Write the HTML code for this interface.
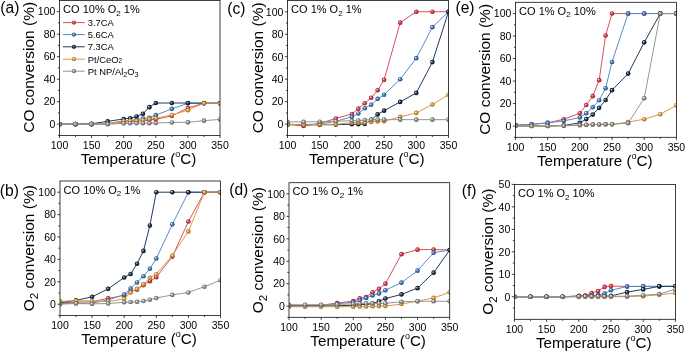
<!DOCTYPE html><html><head><meta charset="utf-8"><style>
html,body{margin:0;padding:0;background:#fff;width:685px;height:351px;overflow:hidden;}
svg{display:block;will-change:transform;}
text{font-family:"Liberation Sans", sans-serif;fill:#000;}
</style></head><body>
<svg width="685" height="351" viewBox="0 0 685 351">
<defs>
<radialGradient id="g_red" cx="0.5" cy="0.5" r="0.5" fx="0.33" fy="0.33"><stop offset="0" stop-color="#ffffff"/><stop offset="0.2" stop-color="#ec96a3"/><stop offset="0.55" stop-color="#cc3346"/><stop offset="1" stop-color="#9e1d2e"/></radialGradient>
<radialGradient id="g_blue" cx="0.5" cy="0.5" r="0.5" fx="0.33" fy="0.33"><stop offset="0" stop-color="#ffffff"/><stop offset="0.2" stop-color="#9dbde2"/><stop offset="0.55" stop-color="#3f72b0"/><stop offset="1" stop-color="#244d82"/></radialGradient>
<radialGradient id="g_navy" cx="0.5" cy="0.5" r="0.5" fx="0.33" fy="0.33"><stop offset="0" stop-color="#ffffff"/><stop offset="0.2" stop-color="#7d95ae"/><stop offset="0.55" stop-color="#142c46"/><stop offset="1" stop-color="#061426"/></radialGradient>
<radialGradient id="g_orange" cx="0.5" cy="0.5" r="0.5" fx="0.33" fy="0.33"><stop offset="0" stop-color="#ffffff"/><stop offset="0.2" stop-color="#f0cb94"/><stop offset="0.55" stop-color="#d2953a"/><stop offset="1" stop-color="#a36a1c"/></radialGradient>
<radialGradient id="g_gray" cx="0.5" cy="0.5" r="0.5" fx="0.33" fy="0.33"><stop offset="0" stop-color="#ffffff"/><stop offset="0.2" stop-color="#d6d6d6"/><stop offset="0.55" stop-color="#8c8c8c"/><stop offset="1" stop-color="#5e5e5e"/></radialGradient>
</defs>
<clipPath id="cp_a"><rect x="59.50" y="0.40" width="160.50" height="135.00"/></clipPath>
<line x1="56.90" y1="124.15" x2="59.50" y2="124.15" stroke="#111" stroke-width="0.80"/>
<text transform="translate(55.40,127.95) scale(1,1.000)" font-size="10.5" text-anchor="end">0</text>
<line x1="56.90" y1="101.65" x2="59.50" y2="101.65" stroke="#111" stroke-width="0.80"/>
<text transform="translate(55.40,105.45) scale(1,1.000)" font-size="10.5" text-anchor="end">20</text>
<line x1="56.90" y1="79.15" x2="59.50" y2="79.15" stroke="#111" stroke-width="0.80"/>
<text transform="translate(55.40,82.95) scale(1,1.000)" font-size="10.5" text-anchor="end">40</text>
<line x1="56.90" y1="56.65" x2="59.50" y2="56.65" stroke="#111" stroke-width="0.80"/>
<text transform="translate(55.40,60.45) scale(1,1.000)" font-size="10.5" text-anchor="end">60</text>
<line x1="56.90" y1="34.15" x2="59.50" y2="34.15" stroke="#111" stroke-width="0.80"/>
<text transform="translate(55.40,37.95) scale(1,1.000)" font-size="10.5" text-anchor="end">80</text>
<line x1="56.90" y1="11.65" x2="59.50" y2="11.65" stroke="#111" stroke-width="0.80"/>
<text transform="translate(55.40,15.45) scale(1,1.000)" font-size="10.5" text-anchor="end">100</text>
<line x1="57.90" y1="135.40" x2="59.50" y2="135.40" stroke="#111" stroke-width="0.80"/>
<line x1="57.90" y1="112.90" x2="59.50" y2="112.90" stroke="#111" stroke-width="0.80"/>
<line x1="57.90" y1="90.40" x2="59.50" y2="90.40" stroke="#111" stroke-width="0.80"/>
<line x1="57.90" y1="67.90" x2="59.50" y2="67.90" stroke="#111" stroke-width="0.80"/>
<line x1="57.90" y1="45.40" x2="59.50" y2="45.40" stroke="#111" stroke-width="0.80"/>
<line x1="57.90" y1="22.90" x2="59.50" y2="22.90" stroke="#111" stroke-width="0.80"/>
<line x1="59.50" y1="135.40" x2="59.50" y2="138.00" stroke="#111" stroke-width="0.80"/>
<text transform="translate(59.50,149.20) scale(1,1.000)" font-size="10.5" text-anchor="middle">100</text>
<line x1="91.60" y1="135.40" x2="91.60" y2="138.00" stroke="#111" stroke-width="0.80"/>
<text transform="translate(91.60,149.20) scale(1,1.000)" font-size="10.5" text-anchor="middle">150</text>
<line x1="123.70" y1="135.40" x2="123.70" y2="138.00" stroke="#111" stroke-width="0.80"/>
<text transform="translate(123.70,149.20) scale(1,1.000)" font-size="10.5" text-anchor="middle">200</text>
<line x1="155.80" y1="135.40" x2="155.80" y2="138.00" stroke="#111" stroke-width="0.80"/>
<text transform="translate(155.80,149.20) scale(1,1.000)" font-size="10.5" text-anchor="middle">250</text>
<line x1="187.90" y1="135.40" x2="187.90" y2="138.00" stroke="#111" stroke-width="0.80"/>
<text transform="translate(187.90,149.20) scale(1,1.000)" font-size="10.5" text-anchor="middle">300</text>
<line x1="220.00" y1="135.40" x2="220.00" y2="138.00" stroke="#111" stroke-width="0.80"/>
<text transform="translate(220.00,149.20) scale(1,1.000)" font-size="10.5" text-anchor="middle">350</text>
<line x1="75.55" y1="135.40" x2="75.55" y2="137.00" stroke="#111" stroke-width="0.80"/>
<line x1="107.65" y1="135.40" x2="107.65" y2="137.00" stroke="#111" stroke-width="0.80"/>
<line x1="139.75" y1="135.40" x2="139.75" y2="137.00" stroke="#111" stroke-width="0.80"/>
<line x1="171.85" y1="135.40" x2="171.85" y2="137.00" stroke="#111" stroke-width="0.80"/>
<line x1="203.95" y1="135.40" x2="203.95" y2="137.00" stroke="#111" stroke-width="0.80"/>
<text x="138.55" y="163.70" font-size="15.2" text-anchor="middle">Temperature (<tspan font-size="9" dy="-6.8">o</tspan><tspan dy="6.8">C)</tspan></text>
<text transform="translate(33.80,67.30) rotate(-90)" font-size="15.5" text-anchor="middle">CO conversion (%)</text>
<text x="0.30" y="12.90" font-size="15.6">(a)</text>
<text x="63.10" y="12.90" font-size="11">CO 10% O<tspan font-size="8" dy="2.6">2</tspan><tspan dy="-2.6"> 1%</tspan></text>
<g clip-path="url(#cp_a)">
<polyline points="59.50,124.15 75.55,124.15 91.60,124.15 107.65,123.81 123.70,122.12 130.12,121.68 136.54,121.23 142.96,120.78 149.38,120.10 155.80,119.31 171.85,115.83 187.90,107.95 203.95,103.23 220.00,103.34" fill="none" stroke="#d8505c" stroke-width="1" stroke-linejoin="round"/>
<circle cx="59.50" cy="124.15" r="2.30" fill="url(#g_red)"/>
<circle cx="75.55" cy="124.15" r="2.30" fill="url(#g_red)"/>
<circle cx="91.60" cy="124.15" r="2.30" fill="url(#g_red)"/>
<circle cx="107.65" cy="123.81" r="2.30" fill="url(#g_red)"/>
<circle cx="123.70" cy="122.12" r="2.30" fill="url(#g_red)"/>
<circle cx="130.12" cy="121.68" r="2.30" fill="url(#g_red)"/>
<circle cx="136.54" cy="121.23" r="2.30" fill="url(#g_red)"/>
<circle cx="142.96" cy="120.78" r="2.30" fill="url(#g_red)"/>
<circle cx="149.38" cy="120.10" r="2.30" fill="url(#g_red)"/>
<circle cx="155.80" cy="119.31" r="2.30" fill="url(#g_red)"/>
<circle cx="171.85" cy="115.83" r="2.30" fill="url(#g_red)"/>
<circle cx="187.90" cy="107.95" r="2.30" fill="url(#g_red)"/>
<circle cx="203.95" cy="103.23" r="2.30" fill="url(#g_red)"/>
<circle cx="220.00" cy="103.34" r="2.30" fill="url(#g_red)"/>
<polyline points="59.50,124.15 75.55,124.15 91.60,124.15 107.65,123.70 123.70,120.78 130.12,120.44 136.54,119.88 142.96,118.53 149.38,117.85 155.80,115.15 171.85,108.85 187.90,103.34 203.95,103.23 220.00,103.23" fill="none" stroke="#5b8cc8" stroke-width="1" stroke-linejoin="round"/>
<circle cx="59.50" cy="124.15" r="2.30" fill="url(#g_blue)"/>
<circle cx="75.55" cy="124.15" r="2.30" fill="url(#g_blue)"/>
<circle cx="91.60" cy="124.15" r="2.30" fill="url(#g_blue)"/>
<circle cx="107.65" cy="123.70" r="2.30" fill="url(#g_blue)"/>
<circle cx="123.70" cy="120.78" r="2.30" fill="url(#g_blue)"/>
<circle cx="130.12" cy="120.44" r="2.30" fill="url(#g_blue)"/>
<circle cx="136.54" cy="119.88" r="2.30" fill="url(#g_blue)"/>
<circle cx="142.96" cy="118.53" r="2.30" fill="url(#g_blue)"/>
<circle cx="149.38" cy="117.85" r="2.30" fill="url(#g_blue)"/>
<circle cx="155.80" cy="115.15" r="2.30" fill="url(#g_blue)"/>
<circle cx="171.85" cy="108.85" r="2.30" fill="url(#g_blue)"/>
<circle cx="187.90" cy="103.34" r="2.30" fill="url(#g_blue)"/>
<circle cx="203.95" cy="103.23" r="2.30" fill="url(#g_blue)"/>
<circle cx="220.00" cy="103.23" r="2.30" fill="url(#g_blue)"/>
<polyline points="59.50,124.15 75.55,124.15 91.60,123.81 107.65,121.34 123.70,118.98 130.12,118.19 136.54,116.50 142.96,113.69 149.38,107.16 155.80,103.00 171.85,103.00 187.90,103.00 203.95,103.11 220.00,103.23" fill="none" stroke="#1f3b58" stroke-width="1" stroke-linejoin="round"/>
<circle cx="59.50" cy="124.15" r="2.30" fill="url(#g_navy)"/>
<circle cx="75.55" cy="124.15" r="2.30" fill="url(#g_navy)"/>
<circle cx="91.60" cy="123.81" r="2.30" fill="url(#g_navy)"/>
<circle cx="107.65" cy="121.34" r="2.30" fill="url(#g_navy)"/>
<circle cx="123.70" cy="118.98" r="2.30" fill="url(#g_navy)"/>
<circle cx="130.12" cy="118.19" r="2.30" fill="url(#g_navy)"/>
<circle cx="136.54" cy="116.50" r="2.30" fill="url(#g_navy)"/>
<circle cx="142.96" cy="113.69" r="2.30" fill="url(#g_navy)"/>
<circle cx="149.38" cy="107.16" r="2.30" fill="url(#g_navy)"/>
<circle cx="155.80" cy="103.00" r="2.30" fill="url(#g_navy)"/>
<circle cx="171.85" cy="103.00" r="2.30" fill="url(#g_navy)"/>
<circle cx="187.90" cy="103.00" r="2.30" fill="url(#g_navy)"/>
<circle cx="203.95" cy="103.11" r="2.30" fill="url(#g_navy)"/>
<circle cx="220.00" cy="103.23" r="2.30" fill="url(#g_navy)"/>
<polyline points="59.50,124.15 75.55,124.15 91.60,124.15 107.65,123.81 123.70,121.11 130.12,120.78 136.54,120.66 142.96,120.10 149.38,118.86 155.80,118.30 171.85,114.93 187.90,110.20 203.95,103.23 220.00,103.45" fill="none" stroke="#d89a46" stroke-width="1" stroke-linejoin="round"/>
<circle cx="59.50" cy="124.15" r="2.30" fill="url(#g_orange)"/>
<circle cx="75.55" cy="124.15" r="2.30" fill="url(#g_orange)"/>
<circle cx="91.60" cy="124.15" r="2.30" fill="url(#g_orange)"/>
<circle cx="107.65" cy="123.81" r="2.30" fill="url(#g_orange)"/>
<circle cx="123.70" cy="121.11" r="2.30" fill="url(#g_orange)"/>
<circle cx="130.12" cy="120.78" r="2.30" fill="url(#g_orange)"/>
<circle cx="136.54" cy="120.66" r="2.30" fill="url(#g_orange)"/>
<circle cx="142.96" cy="120.10" r="2.30" fill="url(#g_orange)"/>
<circle cx="149.38" cy="118.86" r="2.30" fill="url(#g_orange)"/>
<circle cx="155.80" cy="118.30" r="2.30" fill="url(#g_orange)"/>
<circle cx="171.85" cy="114.93" r="2.30" fill="url(#g_orange)"/>
<circle cx="187.90" cy="110.20" r="2.30" fill="url(#g_orange)"/>
<circle cx="203.95" cy="103.23" r="2.30" fill="url(#g_orange)"/>
<circle cx="220.00" cy="103.45" r="2.30" fill="url(#g_orange)"/>
<polyline points="59.50,124.15 75.55,124.15 91.60,124.15 107.65,124.15 123.70,123.36 130.12,123.25 136.54,123.25 142.96,123.14 149.38,123.14 155.80,123.03 171.85,122.46 187.90,122.35 203.95,120.66 220.00,119.43" fill="none" stroke="#959595" stroke-width="1" stroke-linejoin="round"/>
<circle cx="59.50" cy="124.15" r="2.30" fill="url(#g_gray)"/>
<circle cx="75.55" cy="124.15" r="2.30" fill="url(#g_gray)"/>
<circle cx="91.60" cy="124.15" r="2.30" fill="url(#g_gray)"/>
<circle cx="107.65" cy="124.15" r="2.30" fill="url(#g_gray)"/>
<circle cx="123.70" cy="123.36" r="2.30" fill="url(#g_gray)"/>
<circle cx="130.12" cy="123.25" r="2.30" fill="url(#g_gray)"/>
<circle cx="136.54" cy="123.25" r="2.30" fill="url(#g_gray)"/>
<circle cx="142.96" cy="123.14" r="2.30" fill="url(#g_gray)"/>
<circle cx="149.38" cy="123.14" r="2.30" fill="url(#g_gray)"/>
<circle cx="155.80" cy="123.03" r="2.30" fill="url(#g_gray)"/>
<circle cx="171.85" cy="122.46" r="2.30" fill="url(#g_gray)"/>
<circle cx="187.90" cy="122.35" r="2.30" fill="url(#g_gray)"/>
<circle cx="203.95" cy="120.66" r="2.30" fill="url(#g_gray)"/>
<circle cx="220.00" cy="119.43" r="2.30" fill="url(#g_gray)"/>
</g>
<rect x="59.50" y="0.40" width="160.50" height="135.00" fill="none" stroke="#111" stroke-width="0.80"/>
<clipPath id="cp_c"><rect x="287.50" y="0.50" width="161.00" height="134.90"/></clipPath>
<line x1="284.90" y1="124.16" x2="287.50" y2="124.16" stroke="#111" stroke-width="0.80"/>
<text transform="translate(283.40,127.96) scale(1,1.000)" font-size="10.5" text-anchor="end">0</text>
<line x1="284.90" y1="101.67" x2="287.50" y2="101.67" stroke="#111" stroke-width="0.80"/>
<text transform="translate(283.40,105.47) scale(1,1.000)" font-size="10.5" text-anchor="end">20</text>
<line x1="284.90" y1="79.19" x2="287.50" y2="79.19" stroke="#111" stroke-width="0.80"/>
<text transform="translate(283.40,82.99) scale(1,1.000)" font-size="10.5" text-anchor="end">40</text>
<line x1="284.90" y1="56.71" x2="287.50" y2="56.71" stroke="#111" stroke-width="0.80"/>
<text transform="translate(283.40,60.51) scale(1,1.000)" font-size="10.5" text-anchor="end">60</text>
<line x1="284.90" y1="34.22" x2="287.50" y2="34.22" stroke="#111" stroke-width="0.80"/>
<text transform="translate(283.40,38.02) scale(1,1.000)" font-size="10.5" text-anchor="end">80</text>
<line x1="284.90" y1="11.74" x2="287.50" y2="11.74" stroke="#111" stroke-width="0.80"/>
<text transform="translate(283.40,15.54) scale(1,1.000)" font-size="10.5" text-anchor="end">100</text>
<line x1="285.90" y1="135.40" x2="287.50" y2="135.40" stroke="#111" stroke-width="0.80"/>
<line x1="285.90" y1="112.92" x2="287.50" y2="112.92" stroke="#111" stroke-width="0.80"/>
<line x1="285.90" y1="90.43" x2="287.50" y2="90.43" stroke="#111" stroke-width="0.80"/>
<line x1="285.90" y1="67.95" x2="287.50" y2="67.95" stroke="#111" stroke-width="0.80"/>
<line x1="285.90" y1="45.47" x2="287.50" y2="45.47" stroke="#111" stroke-width="0.80"/>
<line x1="285.90" y1="22.98" x2="287.50" y2="22.98" stroke="#111" stroke-width="0.80"/>
<line x1="287.50" y1="135.40" x2="287.50" y2="138.00" stroke="#111" stroke-width="0.80"/>
<text transform="translate(287.50,149.20) scale(1,1.000)" font-size="10.5" text-anchor="middle">100</text>
<line x1="319.70" y1="135.40" x2="319.70" y2="138.00" stroke="#111" stroke-width="0.80"/>
<text transform="translate(319.70,149.20) scale(1,1.000)" font-size="10.5" text-anchor="middle">150</text>
<line x1="351.90" y1="135.40" x2="351.90" y2="138.00" stroke="#111" stroke-width="0.80"/>
<text transform="translate(351.90,149.20) scale(1,1.000)" font-size="10.5" text-anchor="middle">200</text>
<line x1="384.10" y1="135.40" x2="384.10" y2="138.00" stroke="#111" stroke-width="0.80"/>
<text transform="translate(384.10,149.20) scale(1,1.000)" font-size="10.5" text-anchor="middle">250</text>
<line x1="416.30" y1="135.40" x2="416.30" y2="138.00" stroke="#111" stroke-width="0.80"/>
<text transform="translate(416.30,149.20) scale(1,1.000)" font-size="10.5" text-anchor="middle">300</text>
<line x1="448.50" y1="135.40" x2="448.50" y2="138.00" stroke="#111" stroke-width="0.80"/>
<text transform="translate(448.50,149.20) scale(1,1.000)" font-size="10.5" text-anchor="middle">350</text>
<line x1="303.60" y1="135.40" x2="303.60" y2="137.00" stroke="#111" stroke-width="0.80"/>
<line x1="335.80" y1="135.40" x2="335.80" y2="137.00" stroke="#111" stroke-width="0.80"/>
<line x1="368.00" y1="135.40" x2="368.00" y2="137.00" stroke="#111" stroke-width="0.80"/>
<line x1="400.20" y1="135.40" x2="400.20" y2="137.00" stroke="#111" stroke-width="0.80"/>
<line x1="432.40" y1="135.40" x2="432.40" y2="137.00" stroke="#111" stroke-width="0.80"/>
<text x="366.80" y="163.70" font-size="15.2" text-anchor="middle">Temperature (<tspan font-size="9" dy="-6.8">o</tspan><tspan dy="6.8">C)</tspan></text>
<text transform="translate(262.70,67.85) rotate(-90)" font-size="15.5" text-anchor="middle">CO conversion (%)</text>
<text x="227.30" y="14.30" font-size="15.6">(c)</text>
<text x="291.10" y="13.00" font-size="11">CO 1% O<tspan font-size="8" dy="2.6">2</tspan><tspan dy="-2.6"> 1%</tspan></text>
<g clip-path="url(#cp_c)">
<polyline points="287.50,124.16 303.60,125.96 319.70,123.48 335.80,118.43 351.90,113.93 358.34,108.64 364.78,103.25 371.22,97.74 377.66,90.32 384.10,79.87 400.20,22.65 416.30,11.74 432.40,11.74 448.50,11.74" fill="none" stroke="#d8505c" stroke-width="1" stroke-linejoin="round"/>
<circle cx="287.50" cy="124.16" r="2.30" fill="url(#g_red)"/>
<circle cx="303.60" cy="125.96" r="2.30" fill="url(#g_red)"/>
<circle cx="319.70" cy="123.48" r="2.30" fill="url(#g_red)"/>
<circle cx="335.80" cy="118.43" r="2.30" fill="url(#g_red)"/>
<circle cx="351.90" cy="113.93" r="2.30" fill="url(#g_red)"/>
<circle cx="358.34" cy="108.64" r="2.30" fill="url(#g_red)"/>
<circle cx="364.78" cy="103.25" r="2.30" fill="url(#g_red)"/>
<circle cx="371.22" cy="97.74" r="2.30" fill="url(#g_red)"/>
<circle cx="377.66" cy="90.32" r="2.30" fill="url(#g_red)"/>
<circle cx="384.10" cy="79.87" r="2.30" fill="url(#g_red)"/>
<circle cx="400.20" cy="22.65" r="2.30" fill="url(#g_red)"/>
<circle cx="416.30" cy="11.74" r="2.30" fill="url(#g_red)"/>
<circle cx="432.40" cy="11.74" r="2.30" fill="url(#g_red)"/>
<circle cx="448.50" cy="11.74" r="2.30" fill="url(#g_red)"/>
<polyline points="287.50,124.50 303.60,124.50 319.70,124.05 335.80,121.24 351.90,116.85 358.34,113.48 364.78,108.20 371.22,104.82 377.66,98.86 384.10,94.71 400.20,79.30 416.30,58.17 432.40,27.14 448.50,11.74" fill="none" stroke="#5b8cc8" stroke-width="1" stroke-linejoin="round"/>
<circle cx="287.50" cy="124.50" r="2.30" fill="url(#g_blue)"/>
<circle cx="303.60" cy="124.50" r="2.30" fill="url(#g_blue)"/>
<circle cx="319.70" cy="124.05" r="2.30" fill="url(#g_blue)"/>
<circle cx="335.80" cy="121.24" r="2.30" fill="url(#g_blue)"/>
<circle cx="351.90" cy="116.85" r="2.30" fill="url(#g_blue)"/>
<circle cx="358.34" cy="113.48" r="2.30" fill="url(#g_blue)"/>
<circle cx="364.78" cy="108.20" r="2.30" fill="url(#g_blue)"/>
<circle cx="371.22" cy="104.82" r="2.30" fill="url(#g_blue)"/>
<circle cx="377.66" cy="98.86" r="2.30" fill="url(#g_blue)"/>
<circle cx="384.10" cy="94.71" r="2.30" fill="url(#g_blue)"/>
<circle cx="400.20" cy="79.30" r="2.30" fill="url(#g_blue)"/>
<circle cx="416.30" cy="58.17" r="2.30" fill="url(#g_blue)"/>
<circle cx="432.40" cy="27.14" r="2.30" fill="url(#g_blue)"/>
<circle cx="448.50" cy="11.74" r="2.30" fill="url(#g_blue)"/>
<polyline points="287.50,124.61 303.60,124.83 319.70,124.83 335.80,124.61 351.90,124.27 358.34,124.16 364.78,124.05 371.22,119.89 377.66,114.38 384.10,110.67 400.20,101.90 416.30,92.91 432.40,62.10 448.50,11.74" fill="none" stroke="#1f3b58" stroke-width="1" stroke-linejoin="round"/>
<circle cx="287.50" cy="124.61" r="2.30" fill="url(#g_navy)"/>
<circle cx="303.60" cy="124.83" r="2.30" fill="url(#g_navy)"/>
<circle cx="319.70" cy="124.83" r="2.30" fill="url(#g_navy)"/>
<circle cx="335.80" cy="124.61" r="2.30" fill="url(#g_navy)"/>
<circle cx="351.90" cy="124.27" r="2.30" fill="url(#g_navy)"/>
<circle cx="358.34" cy="124.16" r="2.30" fill="url(#g_navy)"/>
<circle cx="364.78" cy="124.05" r="2.30" fill="url(#g_navy)"/>
<circle cx="371.22" cy="119.89" r="2.30" fill="url(#g_navy)"/>
<circle cx="377.66" cy="114.38" r="2.30" fill="url(#g_navy)"/>
<circle cx="384.10" cy="110.67" r="2.30" fill="url(#g_navy)"/>
<circle cx="400.20" cy="101.90" r="2.30" fill="url(#g_navy)"/>
<circle cx="416.30" cy="92.91" r="2.30" fill="url(#g_navy)"/>
<circle cx="432.40" cy="62.10" r="2.30" fill="url(#g_navy)"/>
<circle cx="448.50" cy="11.74" r="2.30" fill="url(#g_navy)"/>
<polyline points="287.50,124.16 303.60,124.83 319.70,124.38 335.80,124.27 351.90,122.70 358.34,122.70 364.78,122.58 371.22,121.91 377.66,121.46 384.10,121.24 400.20,116.85 416.30,112.92 432.40,104.49 448.50,94.71" fill="none" stroke="#d89a46" stroke-width="1" stroke-linejoin="round"/>
<circle cx="287.50" cy="124.16" r="2.30" fill="url(#g_orange)"/>
<circle cx="303.60" cy="124.83" r="2.30" fill="url(#g_orange)"/>
<circle cx="319.70" cy="124.38" r="2.30" fill="url(#g_orange)"/>
<circle cx="335.80" cy="124.27" r="2.30" fill="url(#g_orange)"/>
<circle cx="351.90" cy="122.70" r="2.30" fill="url(#g_orange)"/>
<circle cx="358.34" cy="122.70" r="2.30" fill="url(#g_orange)"/>
<circle cx="364.78" cy="122.58" r="2.30" fill="url(#g_orange)"/>
<circle cx="371.22" cy="121.91" r="2.30" fill="url(#g_orange)"/>
<circle cx="377.66" cy="121.46" r="2.30" fill="url(#g_orange)"/>
<circle cx="384.10" cy="121.24" r="2.30" fill="url(#g_orange)"/>
<circle cx="400.20" cy="116.85" r="2.30" fill="url(#g_orange)"/>
<circle cx="416.30" cy="112.92" r="2.30" fill="url(#g_orange)"/>
<circle cx="432.40" cy="104.49" r="2.30" fill="url(#g_orange)"/>
<circle cx="448.50" cy="94.71" r="2.30" fill="url(#g_orange)"/>
<polyline points="287.50,121.91 303.60,121.91 319.70,121.69 335.80,121.24 351.90,120.79 358.34,120.56 364.78,120.00 371.22,119.66 377.66,119.66 384.10,119.66 400.20,119.66 416.30,119.66 432.40,119.66 448.50,119.66" fill="none" stroke="#959595" stroke-width="1" stroke-linejoin="round"/>
<circle cx="287.50" cy="121.91" r="2.30" fill="url(#g_gray)"/>
<circle cx="303.60" cy="121.91" r="2.30" fill="url(#g_gray)"/>
<circle cx="319.70" cy="121.69" r="2.30" fill="url(#g_gray)"/>
<circle cx="335.80" cy="121.24" r="2.30" fill="url(#g_gray)"/>
<circle cx="351.90" cy="120.79" r="2.30" fill="url(#g_gray)"/>
<circle cx="358.34" cy="120.56" r="2.30" fill="url(#g_gray)"/>
<circle cx="364.78" cy="120.00" r="2.30" fill="url(#g_gray)"/>
<circle cx="371.22" cy="119.66" r="2.30" fill="url(#g_gray)"/>
<circle cx="377.66" cy="119.66" r="2.30" fill="url(#g_gray)"/>
<circle cx="384.10" cy="119.66" r="2.30" fill="url(#g_gray)"/>
<circle cx="400.20" cy="119.66" r="2.30" fill="url(#g_gray)"/>
<circle cx="416.30" cy="119.66" r="2.30" fill="url(#g_gray)"/>
<circle cx="432.40" cy="119.66" r="2.30" fill="url(#g_gray)"/>
<circle cx="448.50" cy="119.66" r="2.30" fill="url(#g_gray)"/>
</g>
<rect x="287.50" y="0.50" width="161.00" height="134.90" fill="none" stroke="#111" stroke-width="0.80"/>
<clipPath id="cp_e"><rect x="515.50" y="2.30" width="160.90" height="135.00"/></clipPath>
<line x1="512.90" y1="126.05" x2="515.50" y2="126.05" stroke="#111" stroke-width="0.80"/>
<text transform="translate(511.40,129.85) scale(1,1.000)" font-size="10.5" text-anchor="end">0</text>
<line x1="512.90" y1="103.55" x2="515.50" y2="103.55" stroke="#111" stroke-width="0.80"/>
<text transform="translate(511.40,107.35) scale(1,1.000)" font-size="10.5" text-anchor="end">20</text>
<line x1="512.90" y1="81.05" x2="515.50" y2="81.05" stroke="#111" stroke-width="0.80"/>
<text transform="translate(511.40,84.85) scale(1,1.000)" font-size="10.5" text-anchor="end">40</text>
<line x1="512.90" y1="58.55" x2="515.50" y2="58.55" stroke="#111" stroke-width="0.80"/>
<text transform="translate(511.40,62.35) scale(1,1.000)" font-size="10.5" text-anchor="end">60</text>
<line x1="512.90" y1="36.05" x2="515.50" y2="36.05" stroke="#111" stroke-width="0.80"/>
<text transform="translate(511.40,39.85) scale(1,1.000)" font-size="10.5" text-anchor="end">80</text>
<line x1="512.90" y1="13.55" x2="515.50" y2="13.55" stroke="#111" stroke-width="0.80"/>
<text transform="translate(511.40,17.35) scale(1,1.000)" font-size="10.5" text-anchor="end">100</text>
<line x1="513.90" y1="137.30" x2="515.50" y2="137.30" stroke="#111" stroke-width="0.80"/>
<line x1="513.90" y1="114.80" x2="515.50" y2="114.80" stroke="#111" stroke-width="0.80"/>
<line x1="513.90" y1="92.30" x2="515.50" y2="92.30" stroke="#111" stroke-width="0.80"/>
<line x1="513.90" y1="69.80" x2="515.50" y2="69.80" stroke="#111" stroke-width="0.80"/>
<line x1="513.90" y1="47.30" x2="515.50" y2="47.30" stroke="#111" stroke-width="0.80"/>
<line x1="513.90" y1="24.80" x2="515.50" y2="24.80" stroke="#111" stroke-width="0.80"/>
<line x1="515.50" y1="137.30" x2="515.50" y2="139.90" stroke="#111" stroke-width="0.80"/>
<text transform="translate(515.50,151.10) scale(1,1.000)" font-size="10.5" text-anchor="middle">100</text>
<line x1="547.68" y1="137.30" x2="547.68" y2="139.90" stroke="#111" stroke-width="0.80"/>
<text transform="translate(547.68,151.10) scale(1,1.000)" font-size="10.5" text-anchor="middle">150</text>
<line x1="579.86" y1="137.30" x2="579.86" y2="139.90" stroke="#111" stroke-width="0.80"/>
<text transform="translate(579.86,151.10) scale(1,1.000)" font-size="10.5" text-anchor="middle">200</text>
<line x1="612.04" y1="137.30" x2="612.04" y2="139.90" stroke="#111" stroke-width="0.80"/>
<text transform="translate(612.04,151.10) scale(1,1.000)" font-size="10.5" text-anchor="middle">250</text>
<line x1="644.22" y1="137.30" x2="644.22" y2="139.90" stroke="#111" stroke-width="0.80"/>
<text transform="translate(644.22,151.10) scale(1,1.000)" font-size="10.5" text-anchor="middle">300</text>
<line x1="676.40" y1="137.30" x2="676.40" y2="139.90" stroke="#111" stroke-width="0.80"/>
<text transform="translate(676.40,151.10) scale(1,1.000)" font-size="10.5" text-anchor="middle">350</text>
<line x1="531.59" y1="137.30" x2="531.59" y2="138.90" stroke="#111" stroke-width="0.80"/>
<line x1="563.77" y1="137.30" x2="563.77" y2="138.90" stroke="#111" stroke-width="0.80"/>
<line x1="595.95" y1="137.30" x2="595.95" y2="138.90" stroke="#111" stroke-width="0.80"/>
<line x1="628.13" y1="137.30" x2="628.13" y2="138.90" stroke="#111" stroke-width="0.80"/>
<line x1="660.31" y1="137.30" x2="660.31" y2="138.90" stroke="#111" stroke-width="0.80"/>
<text x="594.75" y="165.60" font-size="15.2" text-anchor="middle">Temperature (<tspan font-size="9" dy="-6.8">o</tspan><tspan dy="6.8">C)</tspan></text>
<text transform="translate(490.30,69.40) rotate(-90)" font-size="15.5" text-anchor="middle">CO conversion (%)</text>
<text x="455.50" y="13.00" font-size="15.6">(e)</text>
<text x="519.10" y="14.80" font-size="11">CO 1% O<tspan font-size="8" dy="2.6">2</tspan><tspan dy="-2.6"> 10%</tspan></text>
<g clip-path="url(#cp_e)">
<polyline points="515.50,125.15 531.59,124.36 547.68,122.90 563.77,119.19 579.86,113.34 586.30,105.01 592.73,96.13 599.17,80.15 605.60,35.49 612.04,13.55 628.13,13.55 644.22,13.55 660.31,13.55 676.40,13.55" fill="none" stroke="#d8505c" stroke-width="1" stroke-linejoin="round"/>
<circle cx="515.50" cy="125.15" r="2.30" fill="url(#g_red)"/>
<circle cx="531.59" cy="124.36" r="2.30" fill="url(#g_red)"/>
<circle cx="547.68" cy="122.90" r="2.30" fill="url(#g_red)"/>
<circle cx="563.77" cy="119.19" r="2.30" fill="url(#g_red)"/>
<circle cx="579.86" cy="113.34" r="2.30" fill="url(#g_red)"/>
<circle cx="586.30" cy="105.01" r="2.30" fill="url(#g_red)"/>
<circle cx="592.73" cy="96.13" r="2.30" fill="url(#g_red)"/>
<circle cx="599.17" cy="80.15" r="2.30" fill="url(#g_red)"/>
<circle cx="605.60" cy="35.49" r="2.30" fill="url(#g_red)"/>
<circle cx="612.04" cy="13.55" r="2.30" fill="url(#g_red)"/>
<circle cx="628.13" cy="13.55" r="2.30" fill="url(#g_red)"/>
<circle cx="644.22" cy="13.55" r="2.30" fill="url(#g_red)"/>
<circle cx="660.31" cy="13.55" r="2.30" fill="url(#g_red)"/>
<circle cx="676.40" cy="13.55" r="2.30" fill="url(#g_red)"/>
<polyline points="515.50,125.15 531.59,124.36 547.68,122.90 563.77,120.88 579.86,117.50 586.30,113.23 592.73,107.26 599.17,100.29 605.60,88.25 612.04,61.93 628.13,13.55 644.22,13.55 660.31,13.55 676.40,13.55" fill="none" stroke="#5b8cc8" stroke-width="1" stroke-linejoin="round"/>
<circle cx="515.50" cy="125.15" r="2.30" fill="url(#g_blue)"/>
<circle cx="531.59" cy="124.36" r="2.30" fill="url(#g_blue)"/>
<circle cx="547.68" cy="122.90" r="2.30" fill="url(#g_blue)"/>
<circle cx="563.77" cy="120.88" r="2.30" fill="url(#g_blue)"/>
<circle cx="579.86" cy="117.50" r="2.30" fill="url(#g_blue)"/>
<circle cx="586.30" cy="113.23" r="2.30" fill="url(#g_blue)"/>
<circle cx="592.73" cy="107.26" r="2.30" fill="url(#g_blue)"/>
<circle cx="599.17" cy="100.29" r="2.30" fill="url(#g_blue)"/>
<circle cx="605.60" cy="88.25" r="2.30" fill="url(#g_blue)"/>
<circle cx="612.04" cy="61.93" r="2.30" fill="url(#g_blue)"/>
<circle cx="628.13" cy="13.55" r="2.30" fill="url(#g_blue)"/>
<circle cx="644.22" cy="13.55" r="2.30" fill="url(#g_blue)"/>
<circle cx="660.31" cy="13.55" r="2.30" fill="url(#g_blue)"/>
<circle cx="676.40" cy="13.55" r="2.30" fill="url(#g_blue)"/>
<polyline points="515.50,126.05 531.59,126.05 547.68,126.05 563.77,125.49 579.86,122.79 586.30,119.08 592.73,114.58 599.17,107.83 605.60,99.95 612.04,90.16 628.13,73.62 644.22,42.35 660.31,13.55 676.40,13.55" fill="none" stroke="#1f3b58" stroke-width="1" stroke-linejoin="round"/>
<circle cx="515.50" cy="126.05" r="2.30" fill="url(#g_navy)"/>
<circle cx="531.59" cy="126.05" r="2.30" fill="url(#g_navy)"/>
<circle cx="547.68" cy="126.05" r="2.30" fill="url(#g_navy)"/>
<circle cx="563.77" cy="125.49" r="2.30" fill="url(#g_navy)"/>
<circle cx="579.86" cy="122.79" r="2.30" fill="url(#g_navy)"/>
<circle cx="586.30" cy="119.08" r="2.30" fill="url(#g_navy)"/>
<circle cx="592.73" cy="114.58" r="2.30" fill="url(#g_navy)"/>
<circle cx="599.17" cy="107.83" r="2.30" fill="url(#g_navy)"/>
<circle cx="605.60" cy="99.95" r="2.30" fill="url(#g_navy)"/>
<circle cx="612.04" cy="90.16" r="2.30" fill="url(#g_navy)"/>
<circle cx="628.13" cy="73.62" r="2.30" fill="url(#g_navy)"/>
<circle cx="644.22" cy="42.35" r="2.30" fill="url(#g_navy)"/>
<circle cx="660.31" cy="13.55" r="2.30" fill="url(#g_navy)"/>
<circle cx="676.40" cy="13.55" r="2.30" fill="url(#g_navy)"/>
<polyline points="515.50,125.71 531.59,126.05 547.68,126.05 563.77,125.49 579.86,124.93 586.30,124.70 592.73,124.59 599.17,124.48 605.60,124.36 612.04,124.25 628.13,122.11 644.22,119.19 660.31,114.24 676.40,105.35" fill="none" stroke="#d89a46" stroke-width="1" stroke-linejoin="round"/>
<circle cx="515.50" cy="125.71" r="2.30" fill="url(#g_orange)"/>
<circle cx="531.59" cy="126.05" r="2.30" fill="url(#g_orange)"/>
<circle cx="547.68" cy="126.05" r="2.30" fill="url(#g_orange)"/>
<circle cx="563.77" cy="125.49" r="2.30" fill="url(#g_orange)"/>
<circle cx="579.86" cy="124.93" r="2.30" fill="url(#g_orange)"/>
<circle cx="586.30" cy="124.70" r="2.30" fill="url(#g_orange)"/>
<circle cx="592.73" cy="124.59" r="2.30" fill="url(#g_orange)"/>
<circle cx="599.17" cy="124.48" r="2.30" fill="url(#g_orange)"/>
<circle cx="605.60" cy="124.36" r="2.30" fill="url(#g_orange)"/>
<circle cx="612.04" cy="124.25" r="2.30" fill="url(#g_orange)"/>
<circle cx="628.13" cy="122.11" r="2.30" fill="url(#g_orange)"/>
<circle cx="644.22" cy="119.19" r="2.30" fill="url(#g_orange)"/>
<circle cx="660.31" cy="114.24" r="2.30" fill="url(#g_orange)"/>
<circle cx="676.40" cy="105.35" r="2.30" fill="url(#g_orange)"/>
<polyline points="515.50,126.05 531.59,126.05 547.68,126.05 563.77,125.83 579.86,125.15 586.30,124.70 592.73,124.59 599.17,124.48 605.60,124.36 612.04,124.36 628.13,123.13 644.22,98.26 660.31,13.55 676.40,13.55" fill="none" stroke="#959595" stroke-width="1" stroke-linejoin="round"/>
<circle cx="515.50" cy="126.05" r="2.30" fill="url(#g_gray)"/>
<circle cx="531.59" cy="126.05" r="2.30" fill="url(#g_gray)"/>
<circle cx="547.68" cy="126.05" r="2.30" fill="url(#g_gray)"/>
<circle cx="563.77" cy="125.83" r="2.30" fill="url(#g_gray)"/>
<circle cx="579.86" cy="125.15" r="2.30" fill="url(#g_gray)"/>
<circle cx="586.30" cy="124.70" r="2.30" fill="url(#g_gray)"/>
<circle cx="592.73" cy="124.59" r="2.30" fill="url(#g_gray)"/>
<circle cx="599.17" cy="124.48" r="2.30" fill="url(#g_gray)"/>
<circle cx="605.60" cy="124.36" r="2.30" fill="url(#g_gray)"/>
<circle cx="612.04" cy="124.36" r="2.30" fill="url(#g_gray)"/>
<circle cx="628.13" cy="123.13" r="2.30" fill="url(#g_gray)"/>
<circle cx="644.22" cy="98.26" r="2.30" fill="url(#g_gray)"/>
<circle cx="660.31" cy="13.55" r="2.30" fill="url(#g_gray)"/>
<circle cx="676.40" cy="13.55" r="2.30" fill="url(#g_gray)"/>
</g>
<rect x="515.50" y="2.30" width="160.90" height="135.00" fill="none" stroke="#111" stroke-width="0.80"/>
<clipPath id="cp_b"><rect x="60.00" y="181.00" width="160.50" height="134.40"/></clipPath>
<line x1="57.40" y1="304.20" x2="60.00" y2="304.20" stroke="#111" stroke-width="0.80"/>
<text transform="translate(55.90,308.00) scale(1,1.000)" font-size="10.5" text-anchor="end">0</text>
<line x1="57.40" y1="281.80" x2="60.00" y2="281.80" stroke="#111" stroke-width="0.80"/>
<text transform="translate(55.90,285.60) scale(1,1.000)" font-size="10.5" text-anchor="end">20</text>
<line x1="57.40" y1="259.40" x2="60.00" y2="259.40" stroke="#111" stroke-width="0.80"/>
<text transform="translate(55.90,263.20) scale(1,1.000)" font-size="10.5" text-anchor="end">40</text>
<line x1="57.40" y1="237.00" x2="60.00" y2="237.00" stroke="#111" stroke-width="0.80"/>
<text transform="translate(55.90,240.80) scale(1,1.000)" font-size="10.5" text-anchor="end">60</text>
<line x1="57.40" y1="214.60" x2="60.00" y2="214.60" stroke="#111" stroke-width="0.80"/>
<text transform="translate(55.90,218.40) scale(1,1.000)" font-size="10.5" text-anchor="end">80</text>
<line x1="57.40" y1="192.20" x2="60.00" y2="192.20" stroke="#111" stroke-width="0.80"/>
<text transform="translate(55.90,196.00) scale(1,1.000)" font-size="10.5" text-anchor="end">100</text>
<line x1="58.40" y1="315.40" x2="60.00" y2="315.40" stroke="#111" stroke-width="0.80"/>
<line x1="58.40" y1="293.00" x2="60.00" y2="293.00" stroke="#111" stroke-width="0.80"/>
<line x1="58.40" y1="270.60" x2="60.00" y2="270.60" stroke="#111" stroke-width="0.80"/>
<line x1="58.40" y1="248.20" x2="60.00" y2="248.20" stroke="#111" stroke-width="0.80"/>
<line x1="58.40" y1="225.80" x2="60.00" y2="225.80" stroke="#111" stroke-width="0.80"/>
<line x1="58.40" y1="203.40" x2="60.00" y2="203.40" stroke="#111" stroke-width="0.80"/>
<line x1="60.00" y1="315.40" x2="60.00" y2="318.00" stroke="#111" stroke-width="0.80"/>
<text transform="translate(60.00,329.20) scale(1,1.000)" font-size="10.5" text-anchor="middle">100</text>
<line x1="92.10" y1="315.40" x2="92.10" y2="318.00" stroke="#111" stroke-width="0.80"/>
<text transform="translate(92.10,329.20) scale(1,1.000)" font-size="10.5" text-anchor="middle">150</text>
<line x1="124.20" y1="315.40" x2="124.20" y2="318.00" stroke="#111" stroke-width="0.80"/>
<text transform="translate(124.20,329.20) scale(1,1.000)" font-size="10.5" text-anchor="middle">200</text>
<line x1="156.30" y1="315.40" x2="156.30" y2="318.00" stroke="#111" stroke-width="0.80"/>
<text transform="translate(156.30,329.20) scale(1,1.000)" font-size="10.5" text-anchor="middle">250</text>
<line x1="188.40" y1="315.40" x2="188.40" y2="318.00" stroke="#111" stroke-width="0.80"/>
<text transform="translate(188.40,329.20) scale(1,1.000)" font-size="10.5" text-anchor="middle">300</text>
<line x1="220.50" y1="315.40" x2="220.50" y2="318.00" stroke="#111" stroke-width="0.80"/>
<text transform="translate(220.50,329.20) scale(1,1.000)" font-size="10.5" text-anchor="middle">350</text>
<line x1="76.05" y1="315.40" x2="76.05" y2="317.00" stroke="#111" stroke-width="0.80"/>
<line x1="108.15" y1="315.40" x2="108.15" y2="317.00" stroke="#111" stroke-width="0.80"/>
<line x1="140.25" y1="315.40" x2="140.25" y2="317.00" stroke="#111" stroke-width="0.80"/>
<line x1="172.35" y1="315.40" x2="172.35" y2="317.00" stroke="#111" stroke-width="0.80"/>
<line x1="204.45" y1="315.40" x2="204.45" y2="317.00" stroke="#111" stroke-width="0.80"/>
<text x="139.05" y="343.70" font-size="15.2" text-anchor="middle">Temperature (<tspan font-size="9" dy="-6.8">o</tspan><tspan dy="6.8">C)</tspan></text>
<text transform="translate(33.80,248.20) rotate(-90)" font-size="15.5" text-anchor="middle">O<tspan font-size="11.5" dy="4.2">2</tspan><tspan dy="-4.2"> conversion (%)</tspan></text>
<text x="-0.20" y="195.80" font-size="15.6">(b)</text>
<text x="63.60" y="193.50" font-size="11">CO 10% O<tspan font-size="8" dy="2.6">2</tspan><tspan dy="-2.6"> 1%</tspan></text>
<g clip-path="url(#cp_b)">
<polyline points="60.00,302.86 76.05,302.18 92.10,301.74 108.15,298.38 124.20,295.46 130.62,291.32 137.04,289.64 143.46,285.16 149.88,281.13 156.30,277.32 172.35,256.60 188.40,221.54 204.45,192.20 220.50,192.20" fill="none" stroke="#d8505c" stroke-width="1" stroke-linejoin="round"/>
<circle cx="60.00" cy="302.86" r="2.30" fill="url(#g_red)"/>
<circle cx="76.05" cy="302.18" r="2.30" fill="url(#g_red)"/>
<circle cx="92.10" cy="301.74" r="2.30" fill="url(#g_red)"/>
<circle cx="108.15" cy="298.38" r="2.30" fill="url(#g_red)"/>
<circle cx="124.20" cy="295.46" r="2.30" fill="url(#g_red)"/>
<circle cx="130.62" cy="291.32" r="2.30" fill="url(#g_red)"/>
<circle cx="137.04" cy="289.64" r="2.30" fill="url(#g_red)"/>
<circle cx="143.46" cy="285.16" r="2.30" fill="url(#g_red)"/>
<circle cx="149.88" cy="281.13" r="2.30" fill="url(#g_red)"/>
<circle cx="156.30" cy="277.32" r="2.30" fill="url(#g_red)"/>
<circle cx="172.35" cy="256.60" r="2.30" fill="url(#g_red)"/>
<circle cx="188.40" cy="221.54" r="2.30" fill="url(#g_red)"/>
<circle cx="204.45" cy="192.20" r="2.30" fill="url(#g_red)"/>
<circle cx="220.50" cy="192.20" r="2.30" fill="url(#g_red)"/>
<polyline points="60.00,303.53 76.05,303.30 92.10,303.19 108.15,299.94 124.20,294.57 130.62,288.52 137.04,282.47 143.46,276.20 149.88,268.70 156.30,258.50 172.35,224.34 188.40,192.20 204.45,192.20 220.50,192.20" fill="none" stroke="#5b8cc8" stroke-width="1" stroke-linejoin="round"/>
<circle cx="60.00" cy="303.53" r="2.30" fill="url(#g_blue)"/>
<circle cx="76.05" cy="303.30" r="2.30" fill="url(#g_blue)"/>
<circle cx="92.10" cy="303.19" r="2.30" fill="url(#g_blue)"/>
<circle cx="108.15" cy="299.94" r="2.30" fill="url(#g_blue)"/>
<circle cx="124.20" cy="294.57" r="2.30" fill="url(#g_blue)"/>
<circle cx="130.62" cy="288.52" r="2.30" fill="url(#g_blue)"/>
<circle cx="137.04" cy="282.47" r="2.30" fill="url(#g_blue)"/>
<circle cx="143.46" cy="276.20" r="2.30" fill="url(#g_blue)"/>
<circle cx="149.88" cy="268.70" r="2.30" fill="url(#g_blue)"/>
<circle cx="156.30" cy="258.50" r="2.30" fill="url(#g_blue)"/>
<circle cx="172.35" cy="224.34" r="2.30" fill="url(#g_blue)"/>
<circle cx="188.40" cy="192.20" r="2.30" fill="url(#g_blue)"/>
<circle cx="204.45" cy="192.20" r="2.30" fill="url(#g_blue)"/>
<circle cx="220.50" cy="192.20" r="2.30" fill="url(#g_blue)"/>
<polyline points="60.00,302.63 76.05,300.39 92.10,296.81 108.15,288.86 124.20,277.54 130.62,273.96 137.04,263.77 143.46,250.89 149.88,225.46 156.30,192.20 172.35,192.20 188.40,192.20 204.45,192.20 220.50,192.20" fill="none" stroke="#1f3b58" stroke-width="1" stroke-linejoin="round"/>
<circle cx="60.00" cy="302.63" r="2.30" fill="url(#g_navy)"/>
<circle cx="76.05" cy="300.39" r="2.30" fill="url(#g_navy)"/>
<circle cx="92.10" cy="296.81" r="2.30" fill="url(#g_navy)"/>
<circle cx="108.15" cy="288.86" r="2.30" fill="url(#g_navy)"/>
<circle cx="124.20" cy="277.54" r="2.30" fill="url(#g_navy)"/>
<circle cx="130.62" cy="273.96" r="2.30" fill="url(#g_navy)"/>
<circle cx="137.04" cy="263.77" r="2.30" fill="url(#g_navy)"/>
<circle cx="143.46" cy="250.89" r="2.30" fill="url(#g_navy)"/>
<circle cx="149.88" cy="225.46" r="2.30" fill="url(#g_navy)"/>
<circle cx="156.30" cy="192.20" r="2.30" fill="url(#g_navy)"/>
<circle cx="172.35" cy="192.20" r="2.30" fill="url(#g_navy)"/>
<circle cx="188.40" cy="192.20" r="2.30" fill="url(#g_navy)"/>
<circle cx="204.45" cy="192.20" r="2.30" fill="url(#g_navy)"/>
<circle cx="220.50" cy="192.20" r="2.30" fill="url(#g_navy)"/>
<polyline points="60.00,301.29 76.05,300.73 92.10,300.95 108.15,301.62 124.20,298.82 130.62,292.44 137.04,288.86 143.46,284.38 149.88,277.88 156.30,274.18 172.35,255.48 188.40,231.40 204.45,192.20 220.50,192.20" fill="none" stroke="#d89a46" stroke-width="1" stroke-linejoin="round"/>
<circle cx="60.00" cy="301.29" r="2.30" fill="url(#g_orange)"/>
<circle cx="76.05" cy="300.73" r="2.30" fill="url(#g_orange)"/>
<circle cx="92.10" cy="300.95" r="2.30" fill="url(#g_orange)"/>
<circle cx="108.15" cy="301.62" r="2.30" fill="url(#g_orange)"/>
<circle cx="124.20" cy="298.82" r="2.30" fill="url(#g_orange)"/>
<circle cx="130.62" cy="292.44" r="2.30" fill="url(#g_orange)"/>
<circle cx="137.04" cy="288.86" r="2.30" fill="url(#g_orange)"/>
<circle cx="143.46" cy="284.38" r="2.30" fill="url(#g_orange)"/>
<circle cx="149.88" cy="277.88" r="2.30" fill="url(#g_orange)"/>
<circle cx="156.30" cy="274.18" r="2.30" fill="url(#g_orange)"/>
<circle cx="172.35" cy="255.48" r="2.30" fill="url(#g_orange)"/>
<circle cx="188.40" cy="231.40" r="2.30" fill="url(#g_orange)"/>
<circle cx="204.45" cy="192.20" r="2.30" fill="url(#g_orange)"/>
<circle cx="220.50" cy="192.20" r="2.30" fill="url(#g_orange)"/>
<polyline points="60.00,304.20 76.05,303.53 92.10,303.86 108.15,303.53 124.20,302.30 130.62,302.07 137.04,301.85 143.46,301.06 149.88,299.72 156.30,298.04 172.35,294.90 188.40,292.44 204.45,286.73 220.50,280.23" fill="none" stroke="#959595" stroke-width="1" stroke-linejoin="round"/>
<circle cx="60.00" cy="304.20" r="2.30" fill="url(#g_gray)"/>
<circle cx="76.05" cy="303.53" r="2.30" fill="url(#g_gray)"/>
<circle cx="92.10" cy="303.86" r="2.30" fill="url(#g_gray)"/>
<circle cx="108.15" cy="303.53" r="2.30" fill="url(#g_gray)"/>
<circle cx="124.20" cy="302.30" r="2.30" fill="url(#g_gray)"/>
<circle cx="130.62" cy="302.07" r="2.30" fill="url(#g_gray)"/>
<circle cx="137.04" cy="301.85" r="2.30" fill="url(#g_gray)"/>
<circle cx="143.46" cy="301.06" r="2.30" fill="url(#g_gray)"/>
<circle cx="149.88" cy="299.72" r="2.30" fill="url(#g_gray)"/>
<circle cx="156.30" cy="298.04" r="2.30" fill="url(#g_gray)"/>
<circle cx="172.35" cy="294.90" r="2.30" fill="url(#g_gray)"/>
<circle cx="188.40" cy="292.44" r="2.30" fill="url(#g_gray)"/>
<circle cx="204.45" cy="286.73" r="2.30" fill="url(#g_gray)"/>
<circle cx="220.50" cy="280.23" r="2.30" fill="url(#g_gray)"/>
</g>
<rect x="60.00" y="181.00" width="160.50" height="134.40" fill="none" stroke="#111" stroke-width="0.80"/>
<clipPath id="cp_d"><rect x="289.00" y="182.70" width="160.70" height="134.60"/></clipPath>
<line x1="286.40" y1="306.08" x2="289.00" y2="306.08" stroke="#111" stroke-width="0.80"/>
<text transform="translate(284.90,309.88) scale(1,1.000)" font-size="10.5" text-anchor="end">0</text>
<line x1="286.40" y1="283.65" x2="289.00" y2="283.65" stroke="#111" stroke-width="0.80"/>
<text transform="translate(284.90,287.45) scale(1,1.000)" font-size="10.5" text-anchor="end">20</text>
<line x1="286.40" y1="261.22" x2="289.00" y2="261.22" stroke="#111" stroke-width="0.80"/>
<text transform="translate(284.90,265.02) scale(1,1.000)" font-size="10.5" text-anchor="end">40</text>
<line x1="286.40" y1="238.78" x2="289.00" y2="238.78" stroke="#111" stroke-width="0.80"/>
<text transform="translate(284.90,242.58) scale(1,1.000)" font-size="10.5" text-anchor="end">60</text>
<line x1="286.40" y1="216.35" x2="289.00" y2="216.35" stroke="#111" stroke-width="0.80"/>
<text transform="translate(284.90,220.15) scale(1,1.000)" font-size="10.5" text-anchor="end">80</text>
<line x1="286.40" y1="193.92" x2="289.00" y2="193.92" stroke="#111" stroke-width="0.80"/>
<text transform="translate(284.90,197.72) scale(1,1.000)" font-size="10.5" text-anchor="end">100</text>
<line x1="287.40" y1="317.30" x2="289.00" y2="317.30" stroke="#111" stroke-width="0.80"/>
<line x1="287.40" y1="294.87" x2="289.00" y2="294.87" stroke="#111" stroke-width="0.80"/>
<line x1="287.40" y1="272.43" x2="289.00" y2="272.43" stroke="#111" stroke-width="0.80"/>
<line x1="287.40" y1="250.00" x2="289.00" y2="250.00" stroke="#111" stroke-width="0.80"/>
<line x1="287.40" y1="227.57" x2="289.00" y2="227.57" stroke="#111" stroke-width="0.80"/>
<line x1="287.40" y1="205.13" x2="289.00" y2="205.13" stroke="#111" stroke-width="0.80"/>
<line x1="289.00" y1="317.30" x2="289.00" y2="319.90" stroke="#111" stroke-width="0.80"/>
<text transform="translate(289.00,331.10) scale(1,1.000)" font-size="10.5" text-anchor="middle">100</text>
<line x1="321.14" y1="317.30" x2="321.14" y2="319.90" stroke="#111" stroke-width="0.80"/>
<text transform="translate(321.14,331.10) scale(1,1.000)" font-size="10.5" text-anchor="middle">150</text>
<line x1="353.28" y1="317.30" x2="353.28" y2="319.90" stroke="#111" stroke-width="0.80"/>
<text transform="translate(353.28,331.10) scale(1,1.000)" font-size="10.5" text-anchor="middle">200</text>
<line x1="385.42" y1="317.30" x2="385.42" y2="319.90" stroke="#111" stroke-width="0.80"/>
<text transform="translate(385.42,331.10) scale(1,1.000)" font-size="10.5" text-anchor="middle">250</text>
<line x1="417.56" y1="317.30" x2="417.56" y2="319.90" stroke="#111" stroke-width="0.80"/>
<text transform="translate(417.56,331.10) scale(1,1.000)" font-size="10.5" text-anchor="middle">300</text>
<line x1="449.70" y1="317.30" x2="449.70" y2="319.90" stroke="#111" stroke-width="0.80"/>
<text transform="translate(449.70,331.10) scale(1,1.000)" font-size="10.5" text-anchor="middle">350</text>
<line x1="305.07" y1="317.30" x2="305.07" y2="318.90" stroke="#111" stroke-width="0.80"/>
<line x1="337.21" y1="317.30" x2="337.21" y2="318.90" stroke="#111" stroke-width="0.80"/>
<line x1="369.35" y1="317.30" x2="369.35" y2="318.90" stroke="#111" stroke-width="0.80"/>
<line x1="401.49" y1="317.30" x2="401.49" y2="318.90" stroke="#111" stroke-width="0.80"/>
<line x1="433.63" y1="317.30" x2="433.63" y2="318.90" stroke="#111" stroke-width="0.80"/>
<text x="368.15" y="345.60" font-size="15.2" text-anchor="middle">Temperature (<tspan font-size="9" dy="-6.8">o</tspan><tspan dy="6.8">C)</tspan></text>
<text transform="translate(262.70,250.15) rotate(-90)" font-size="15.5" text-anchor="middle">O<tspan font-size="11.5" dy="4.2">2</tspan><tspan dy="-4.2"> conversion (%)</tspan></text>
<text x="229.20" y="194.60" font-size="15.6">(d)</text>
<text x="292.60" y="195.20" font-size="11">CO 1% O<tspan font-size="8" dy="2.6">2</tspan><tspan dy="-2.6"> 1%</tspan></text>
<g clip-path="url(#cp_d)">
<polyline points="289.00,305.52 305.07,305.52 321.14,305.19 337.21,303.05 353.28,301.04 359.71,298.34 366.14,297.00 372.56,292.29 378.99,288.81 385.42,283.65 401.49,254.15 417.56,249.66 433.63,249.55 449.70,250.00" fill="none" stroke="#d8505c" stroke-width="1" stroke-linejoin="round"/>
<circle cx="289.00" cy="305.52" r="2.30" fill="url(#g_red)"/>
<circle cx="305.07" cy="305.52" r="2.30" fill="url(#g_red)"/>
<circle cx="321.14" cy="305.19" r="2.30" fill="url(#g_red)"/>
<circle cx="337.21" cy="303.05" r="2.30" fill="url(#g_red)"/>
<circle cx="353.28" cy="301.04" r="2.30" fill="url(#g_red)"/>
<circle cx="359.71" cy="298.34" r="2.30" fill="url(#g_red)"/>
<circle cx="366.14" cy="297.00" r="2.30" fill="url(#g_red)"/>
<circle cx="372.56" cy="292.29" r="2.30" fill="url(#g_red)"/>
<circle cx="378.99" cy="288.81" r="2.30" fill="url(#g_red)"/>
<circle cx="385.42" cy="283.65" r="2.30" fill="url(#g_red)"/>
<circle cx="401.49" cy="254.15" r="2.30" fill="url(#g_red)"/>
<circle cx="417.56" cy="249.66" r="2.30" fill="url(#g_red)"/>
<circle cx="433.63" cy="249.55" r="2.30" fill="url(#g_red)"/>
<circle cx="449.70" cy="250.00" r="2.30" fill="url(#g_red)"/>
<polyline points="289.00,305.52 305.07,305.52 321.14,305.52 337.21,303.84 353.28,302.16 359.71,300.48 366.14,297.90 372.56,295.43 378.99,293.41 385.42,290.27 401.49,282.64 417.56,270.64 433.63,252.69 449.70,250.00" fill="none" stroke="#5b8cc8" stroke-width="1" stroke-linejoin="round"/>
<circle cx="289.00" cy="305.52" r="2.30" fill="url(#g_blue)"/>
<circle cx="305.07" cy="305.52" r="2.30" fill="url(#g_blue)"/>
<circle cx="321.14" cy="305.52" r="2.30" fill="url(#g_blue)"/>
<circle cx="337.21" cy="303.84" r="2.30" fill="url(#g_blue)"/>
<circle cx="353.28" cy="302.16" r="2.30" fill="url(#g_blue)"/>
<circle cx="359.71" cy="300.48" r="2.30" fill="url(#g_blue)"/>
<circle cx="366.14" cy="297.90" r="2.30" fill="url(#g_blue)"/>
<circle cx="372.56" cy="295.43" r="2.30" fill="url(#g_blue)"/>
<circle cx="378.99" cy="293.41" r="2.30" fill="url(#g_blue)"/>
<circle cx="385.42" cy="290.27" r="2.30" fill="url(#g_blue)"/>
<circle cx="401.49" cy="282.64" r="2.30" fill="url(#g_blue)"/>
<circle cx="417.56" cy="270.64" r="2.30" fill="url(#g_blue)"/>
<circle cx="433.63" cy="252.69" r="2.30" fill="url(#g_blue)"/>
<circle cx="449.70" cy="250.00" r="2.30" fill="url(#g_blue)"/>
<polyline points="289.00,306.08 305.07,306.08 321.14,306.08 337.21,305.75 353.28,305.19 359.71,304.74 366.14,304.29 372.56,303.62 378.99,301.26 385.42,298.57 401.49,294.42 417.56,288.14 433.63,272.66 449.70,250.00" fill="none" stroke="#1f3b58" stroke-width="1" stroke-linejoin="round"/>
<circle cx="289.00" cy="306.08" r="2.30" fill="url(#g_navy)"/>
<circle cx="305.07" cy="306.08" r="2.30" fill="url(#g_navy)"/>
<circle cx="321.14" cy="306.08" r="2.30" fill="url(#g_navy)"/>
<circle cx="337.21" cy="305.75" r="2.30" fill="url(#g_navy)"/>
<circle cx="353.28" cy="305.19" r="2.30" fill="url(#g_navy)"/>
<circle cx="359.71" cy="304.74" r="2.30" fill="url(#g_navy)"/>
<circle cx="366.14" cy="304.29" r="2.30" fill="url(#g_navy)"/>
<circle cx="372.56" cy="303.62" r="2.30" fill="url(#g_navy)"/>
<circle cx="378.99" cy="301.26" r="2.30" fill="url(#g_navy)"/>
<circle cx="385.42" cy="298.57" r="2.30" fill="url(#g_navy)"/>
<circle cx="401.49" cy="294.42" r="2.30" fill="url(#g_navy)"/>
<circle cx="417.56" cy="288.14" r="2.30" fill="url(#g_navy)"/>
<circle cx="433.63" cy="272.66" r="2.30" fill="url(#g_navy)"/>
<circle cx="449.70" cy="250.00" r="2.30" fill="url(#g_navy)"/>
<polyline points="289.00,306.76 305.07,306.76 321.14,306.76 337.21,306.76 353.28,306.64 359.71,306.53 366.14,306.42 372.56,306.31 378.99,306.08 385.42,306.08 401.49,304.06 417.56,301.26 433.63,297.90 449.70,292.29" fill="none" stroke="#d89a46" stroke-width="1" stroke-linejoin="round"/>
<circle cx="289.00" cy="306.76" r="2.30" fill="url(#g_orange)"/>
<circle cx="305.07" cy="306.76" r="2.30" fill="url(#g_orange)"/>
<circle cx="321.14" cy="306.76" r="2.30" fill="url(#g_orange)"/>
<circle cx="337.21" cy="306.76" r="2.30" fill="url(#g_orange)"/>
<circle cx="353.28" cy="306.64" r="2.30" fill="url(#g_orange)"/>
<circle cx="359.71" cy="306.53" r="2.30" fill="url(#g_orange)"/>
<circle cx="366.14" cy="306.42" r="2.30" fill="url(#g_orange)"/>
<circle cx="372.56" cy="306.31" r="2.30" fill="url(#g_orange)"/>
<circle cx="378.99" cy="306.08" r="2.30" fill="url(#g_orange)"/>
<circle cx="385.42" cy="306.08" r="2.30" fill="url(#g_orange)"/>
<circle cx="401.49" cy="304.06" r="2.30" fill="url(#g_orange)"/>
<circle cx="417.56" cy="301.26" r="2.30" fill="url(#g_orange)"/>
<circle cx="433.63" cy="297.90" r="2.30" fill="url(#g_orange)"/>
<circle cx="449.70" cy="292.29" r="2.30" fill="url(#g_orange)"/>
<polyline points="289.00,304.74 305.07,304.74 321.14,304.74 337.21,304.40 353.28,303.84 359.71,303.50 366.14,303.28 372.56,303.28 378.99,303.28 385.42,303.28 401.49,301.71 417.56,301.26 433.63,301.26 449.70,301.26" fill="none" stroke="#959595" stroke-width="1" stroke-linejoin="round"/>
<circle cx="289.00" cy="304.74" r="2.30" fill="url(#g_gray)"/>
<circle cx="305.07" cy="304.74" r="2.30" fill="url(#g_gray)"/>
<circle cx="321.14" cy="304.74" r="2.30" fill="url(#g_gray)"/>
<circle cx="337.21" cy="304.40" r="2.30" fill="url(#g_gray)"/>
<circle cx="353.28" cy="303.84" r="2.30" fill="url(#g_gray)"/>
<circle cx="359.71" cy="303.50" r="2.30" fill="url(#g_gray)"/>
<circle cx="366.14" cy="303.28" r="2.30" fill="url(#g_gray)"/>
<circle cx="372.56" cy="303.28" r="2.30" fill="url(#g_gray)"/>
<circle cx="378.99" cy="303.28" r="2.30" fill="url(#g_gray)"/>
<circle cx="385.42" cy="303.28" r="2.30" fill="url(#g_gray)"/>
<circle cx="401.49" cy="301.71" r="2.30" fill="url(#g_gray)"/>
<circle cx="417.56" cy="301.26" r="2.30" fill="url(#g_gray)"/>
<circle cx="433.63" cy="301.26" r="2.30" fill="url(#g_gray)"/>
<circle cx="449.70" cy="301.26" r="2.30" fill="url(#g_gray)"/>
</g>
<rect x="289.00" y="182.70" width="160.70" height="134.60" fill="none" stroke="#111" stroke-width="0.80"/>
<clipPath id="cp_f"><rect x="514.40" y="184.40" width="161.00" height="134.90"/></clipPath>
<line x1="511.80" y1="296.82" x2="514.40" y2="296.82" stroke="#111" stroke-width="0.80"/>
<text transform="translate(510.30,300.62) scale(1,1.000)" font-size="10.5" text-anchor="end">0</text>
<line x1="511.80" y1="274.33" x2="514.40" y2="274.33" stroke="#111" stroke-width="0.80"/>
<text transform="translate(510.30,278.13) scale(1,1.000)" font-size="10.5" text-anchor="end">10</text>
<line x1="511.80" y1="251.85" x2="514.40" y2="251.85" stroke="#111" stroke-width="0.80"/>
<text transform="translate(510.30,255.65) scale(1,1.000)" font-size="10.5" text-anchor="end">20</text>
<line x1="511.80" y1="229.37" x2="514.40" y2="229.37" stroke="#111" stroke-width="0.80"/>
<text transform="translate(510.30,233.17) scale(1,1.000)" font-size="10.5" text-anchor="end">30</text>
<line x1="511.80" y1="206.88" x2="514.40" y2="206.88" stroke="#111" stroke-width="0.80"/>
<text transform="translate(510.30,210.68) scale(1,1.000)" font-size="10.5" text-anchor="end">40</text>
<line x1="511.80" y1="184.40" x2="514.40" y2="184.40" stroke="#111" stroke-width="0.80"/>
<text transform="translate(510.30,188.20) scale(1,1.000)" font-size="10.5" text-anchor="end">50</text>
<line x1="512.80" y1="308.06" x2="514.40" y2="308.06" stroke="#111" stroke-width="0.80"/>
<line x1="512.80" y1="285.57" x2="514.40" y2="285.57" stroke="#111" stroke-width="0.80"/>
<line x1="512.80" y1="263.09" x2="514.40" y2="263.09" stroke="#111" stroke-width="0.80"/>
<line x1="512.80" y1="240.61" x2="514.40" y2="240.61" stroke="#111" stroke-width="0.80"/>
<line x1="512.80" y1="218.12" x2="514.40" y2="218.12" stroke="#111" stroke-width="0.80"/>
<line x1="512.80" y1="195.64" x2="514.40" y2="195.64" stroke="#111" stroke-width="0.80"/>
<line x1="514.40" y1="319.30" x2="514.40" y2="321.90" stroke="#111" stroke-width="0.80"/>
<text transform="translate(514.40,333.10) scale(1,1.000)" font-size="10.5" text-anchor="middle">100</text>
<line x1="546.60" y1="319.30" x2="546.60" y2="321.90" stroke="#111" stroke-width="0.80"/>
<text transform="translate(546.60,333.10) scale(1,1.000)" font-size="10.5" text-anchor="middle">150</text>
<line x1="578.80" y1="319.30" x2="578.80" y2="321.90" stroke="#111" stroke-width="0.80"/>
<text transform="translate(578.80,333.10) scale(1,1.000)" font-size="10.5" text-anchor="middle">200</text>
<line x1="611.00" y1="319.30" x2="611.00" y2="321.90" stroke="#111" stroke-width="0.80"/>
<text transform="translate(611.00,333.10) scale(1,1.000)" font-size="10.5" text-anchor="middle">250</text>
<line x1="643.20" y1="319.30" x2="643.20" y2="321.90" stroke="#111" stroke-width="0.80"/>
<text transform="translate(643.20,333.10) scale(1,1.000)" font-size="10.5" text-anchor="middle">300</text>
<line x1="675.40" y1="319.30" x2="675.40" y2="321.90" stroke="#111" stroke-width="0.80"/>
<text transform="translate(675.40,333.10) scale(1,1.000)" font-size="10.5" text-anchor="middle">350</text>
<line x1="530.50" y1="319.30" x2="530.50" y2="320.90" stroke="#111" stroke-width="0.80"/>
<line x1="562.70" y1="319.30" x2="562.70" y2="320.90" stroke="#111" stroke-width="0.80"/>
<line x1="594.90" y1="319.30" x2="594.90" y2="320.90" stroke="#111" stroke-width="0.80"/>
<line x1="627.10" y1="319.30" x2="627.10" y2="320.90" stroke="#111" stroke-width="0.80"/>
<line x1="659.30" y1="319.30" x2="659.30" y2="320.90" stroke="#111" stroke-width="0.80"/>
<text x="593.70" y="347.60" font-size="15.2" text-anchor="middle">Temperature (<tspan font-size="9" dy="-6.8">o</tspan><tspan dy="6.8">C)</tspan></text>
<text transform="translate(493.00,251.65) rotate(-90)" font-size="15.5" text-anchor="middle">O<tspan font-size="11.5" dy="4.2">2</tspan><tspan dy="-4.2"> conversion (%)</tspan></text>
<text x="461.80" y="195.80" font-size="15.6">(f)</text>
<text x="518.00" y="196.90" font-size="11">CO 1% O<tspan font-size="8" dy="2.6">2</tspan><tspan dy="-2.6"> 10%</tspan></text>
<g clip-path="url(#cp_f)">
<polyline points="514.40,296.82 530.50,296.82 546.60,296.82 562.70,296.82 578.80,296.37 585.24,295.47 591.68,292.99 598.12,290.97 604.56,286.92 611.00,286.02 627.10,286.47 643.20,286.36 659.30,286.36 675.40,286.36" fill="none" stroke="#d8505c" stroke-width="1" stroke-linejoin="round"/>
<circle cx="514.40" cy="296.82" r="2.30" fill="url(#g_red)"/>
<circle cx="530.50" cy="296.82" r="2.30" fill="url(#g_red)"/>
<circle cx="546.60" cy="296.82" r="2.30" fill="url(#g_red)"/>
<circle cx="562.70" cy="296.82" r="2.30" fill="url(#g_red)"/>
<circle cx="578.80" cy="296.37" r="2.30" fill="url(#g_red)"/>
<circle cx="585.24" cy="295.47" r="2.30" fill="url(#g_red)"/>
<circle cx="591.68" cy="292.99" r="2.30" fill="url(#g_red)"/>
<circle cx="598.12" cy="290.97" r="2.30" fill="url(#g_red)"/>
<circle cx="604.56" cy="286.92" r="2.30" fill="url(#g_red)"/>
<circle cx="611.00" cy="286.02" r="2.30" fill="url(#g_red)"/>
<circle cx="627.10" cy="286.47" r="2.30" fill="url(#g_red)"/>
<circle cx="643.20" cy="286.36" r="2.30" fill="url(#g_red)"/>
<circle cx="659.30" cy="286.36" r="2.30" fill="url(#g_red)"/>
<circle cx="675.40" cy="286.36" r="2.30" fill="url(#g_red)"/>
<polyline points="514.40,296.82 530.50,296.82 546.60,296.82 562.70,296.82 578.80,296.59 585.24,296.14 591.68,295.69 598.12,295.02 604.56,293.44 611.00,290.30 627.10,286.47 643.20,286.36 659.30,286.36 675.40,286.36" fill="none" stroke="#5b8cc8" stroke-width="1" stroke-linejoin="round"/>
<circle cx="514.40" cy="296.82" r="2.30" fill="url(#g_blue)"/>
<circle cx="530.50" cy="296.82" r="2.30" fill="url(#g_blue)"/>
<circle cx="546.60" cy="296.82" r="2.30" fill="url(#g_blue)"/>
<circle cx="562.70" cy="296.82" r="2.30" fill="url(#g_blue)"/>
<circle cx="578.80" cy="296.59" r="2.30" fill="url(#g_blue)"/>
<circle cx="585.24" cy="296.14" r="2.30" fill="url(#g_blue)"/>
<circle cx="591.68" cy="295.69" r="2.30" fill="url(#g_blue)"/>
<circle cx="598.12" cy="295.02" r="2.30" fill="url(#g_blue)"/>
<circle cx="604.56" cy="293.44" r="2.30" fill="url(#g_blue)"/>
<circle cx="611.00" cy="290.30" r="2.30" fill="url(#g_blue)"/>
<circle cx="627.10" cy="286.47" r="2.30" fill="url(#g_blue)"/>
<circle cx="643.20" cy="286.36" r="2.30" fill="url(#g_blue)"/>
<circle cx="659.30" cy="286.36" r="2.30" fill="url(#g_blue)"/>
<circle cx="675.40" cy="286.36" r="2.30" fill="url(#g_blue)"/>
<polyline points="514.40,296.82 530.50,296.82 546.60,296.82 562.70,296.82 578.80,295.92 585.24,296.14 591.68,296.14 598.12,296.14 604.56,296.14 611.00,295.92 627.10,292.10 643.20,289.40 659.30,286.36 675.40,286.36" fill="none" stroke="#1f3b58" stroke-width="1" stroke-linejoin="round"/>
<circle cx="514.40" cy="296.82" r="2.30" fill="url(#g_navy)"/>
<circle cx="530.50" cy="296.82" r="2.30" fill="url(#g_navy)"/>
<circle cx="546.60" cy="296.82" r="2.30" fill="url(#g_navy)"/>
<circle cx="562.70" cy="296.82" r="2.30" fill="url(#g_navy)"/>
<circle cx="578.80" cy="295.92" r="2.30" fill="url(#g_navy)"/>
<circle cx="585.24" cy="296.14" r="2.30" fill="url(#g_navy)"/>
<circle cx="591.68" cy="296.14" r="2.30" fill="url(#g_navy)"/>
<circle cx="598.12" cy="296.14" r="2.30" fill="url(#g_navy)"/>
<circle cx="604.56" cy="296.14" r="2.30" fill="url(#g_navy)"/>
<circle cx="611.00" cy="295.92" r="2.30" fill="url(#g_navy)"/>
<circle cx="627.10" cy="292.10" r="2.30" fill="url(#g_navy)"/>
<circle cx="643.20" cy="289.40" r="2.30" fill="url(#g_navy)"/>
<circle cx="659.30" cy="286.36" r="2.30" fill="url(#g_navy)"/>
<circle cx="675.40" cy="286.36" r="2.30" fill="url(#g_navy)"/>
<polyline points="514.40,296.82 530.50,296.82 546.60,296.82 562.70,296.82 578.80,296.82 585.24,296.82 591.68,296.82 598.12,296.82 604.56,296.82 611.00,296.82 627.10,296.59 643.20,296.14 659.30,294.79 675.40,292.99" fill="none" stroke="#d89a46" stroke-width="1" stroke-linejoin="round"/>
<circle cx="514.40" cy="296.82" r="2.30" fill="url(#g_orange)"/>
<circle cx="530.50" cy="296.82" r="2.30" fill="url(#g_orange)"/>
<circle cx="546.60" cy="296.82" r="2.30" fill="url(#g_orange)"/>
<circle cx="562.70" cy="296.82" r="2.30" fill="url(#g_orange)"/>
<circle cx="578.80" cy="296.82" r="2.30" fill="url(#g_orange)"/>
<circle cx="585.24" cy="296.82" r="2.30" fill="url(#g_orange)"/>
<circle cx="591.68" cy="296.82" r="2.30" fill="url(#g_orange)"/>
<circle cx="598.12" cy="296.82" r="2.30" fill="url(#g_orange)"/>
<circle cx="604.56" cy="296.82" r="2.30" fill="url(#g_orange)"/>
<circle cx="611.00" cy="296.82" r="2.30" fill="url(#g_orange)"/>
<circle cx="627.10" cy="296.59" r="2.30" fill="url(#g_orange)"/>
<circle cx="643.20" cy="296.14" r="2.30" fill="url(#g_orange)"/>
<circle cx="659.30" cy="294.79" r="2.30" fill="url(#g_orange)"/>
<circle cx="675.40" cy="292.99" r="2.30" fill="url(#g_orange)"/>
<polyline points="514.40,296.82 530.50,296.59 546.60,296.59 562.70,296.59 578.80,296.37 585.24,296.37 591.68,296.37 598.12,296.37 604.56,296.37 611.00,296.37 627.10,296.14 643.20,295.24 659.30,294.12 675.40,289.17" fill="none" stroke="#959595" stroke-width="1" stroke-linejoin="round"/>
<circle cx="514.40" cy="296.82" r="2.30" fill="url(#g_gray)"/>
<circle cx="530.50" cy="296.59" r="2.30" fill="url(#g_gray)"/>
<circle cx="546.60" cy="296.59" r="2.30" fill="url(#g_gray)"/>
<circle cx="562.70" cy="296.59" r="2.30" fill="url(#g_gray)"/>
<circle cx="578.80" cy="296.37" r="2.30" fill="url(#g_gray)"/>
<circle cx="585.24" cy="296.37" r="2.30" fill="url(#g_gray)"/>
<circle cx="591.68" cy="296.37" r="2.30" fill="url(#g_gray)"/>
<circle cx="598.12" cy="296.37" r="2.30" fill="url(#g_gray)"/>
<circle cx="604.56" cy="296.37" r="2.30" fill="url(#g_gray)"/>
<circle cx="611.00" cy="296.37" r="2.30" fill="url(#g_gray)"/>
<circle cx="627.10" cy="296.14" r="2.30" fill="url(#g_gray)"/>
<circle cx="643.20" cy="295.24" r="2.30" fill="url(#g_gray)"/>
<circle cx="659.30" cy="294.12" r="2.30" fill="url(#g_gray)"/>
<circle cx="675.40" cy="289.17" r="2.30" fill="url(#g_gray)"/>
</g>
<rect x="514.40" y="184.40" width="161.00" height="134.90" fill="none" stroke="#111" stroke-width="0.80"/>
<line x1="62.9" y1="22.60" x2="84.8" y2="22.60" stroke="#d8505c" stroke-width="1"/>
<circle cx="73.9" cy="22.60" r="2.1" fill="url(#g_red)"/>
<text x="87.8" y="26.00" font-size="9.4">3.7CA</text>
<line x1="62.9" y1="34.60" x2="84.8" y2="34.60" stroke="#5b8cc8" stroke-width="1"/>
<circle cx="73.9" cy="34.60" r="2.1" fill="url(#g_blue)"/>
<text x="87.8" y="38.00" font-size="9.4">5.6CA</text>
<line x1="62.9" y1="46.80" x2="84.8" y2="46.80" stroke="#1f3b58" stroke-width="1"/>
<circle cx="73.9" cy="46.80" r="2.1" fill="url(#g_navy)"/>
<text x="87.8" y="50.20" font-size="9.4">7.3CA</text>
<line x1="62.9" y1="59.20" x2="84.8" y2="59.20" stroke="#d89a46" stroke-width="1"/>
<circle cx="73.9" cy="59.20" r="2.1" fill="url(#g_orange)"/>
<text x="87.8" y="62.50" font-size="9.4">Pt/CeO<tspan font-size="6.3" dy="0.2">2</tspan></text>
<line x1="62.9" y1="71.20" x2="84.8" y2="71.20" stroke="#959595" stroke-width="1"/>
<circle cx="73.9" cy="71.20" r="2.1" fill="url(#g_gray)"/>
<text x="87.8" y="74.50" font-size="9.4">Pt NP/Al<tspan font-size="7.3" dy="2.4">2</tspan><tspan dy="-2.4">O</tspan><tspan font-size="7.3" dy="2.4">3</tspan></text>
</svg></body></html>
